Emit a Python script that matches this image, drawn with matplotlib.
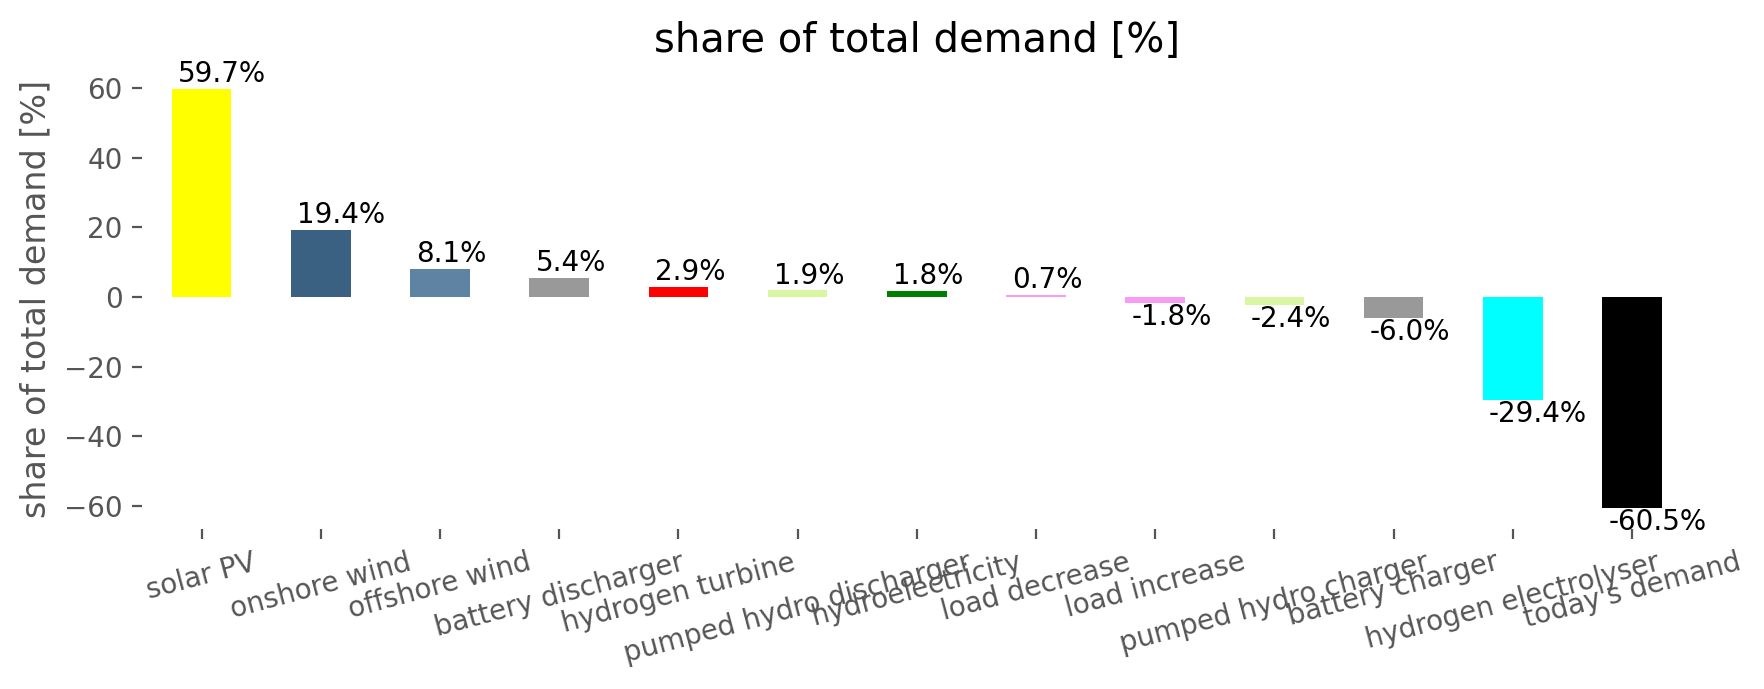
import matplotlib
matplotlib.use("Agg")
import pandas as pd
import matplotlib.pyplot as plt

plt.style.use("ggplot")

# technology shares of total demand
techs = ["solar PV", "onshore wind", "offshore wind", "battery discharger",
         "hydrogen turbine", "pumped hydro discharger", "hydroelectricity",
         "load decrease", "load increase", "pumped hydro charger",
         "battery charger", "hydrogen electrolyser", "today's demand"]
shares = [59.7, 19.4, 8.1, 5.4, 2.9, 1.9, 1.8, 0.7, -1.8, -2.4, -6.0, -29.4, -60.5]
colors = ["#ffff00", "#3b6182", "#5e83a3", "#999999", "#ff0000", "#d9f7a3",
          "#008000", "#f99bf3", "#f99bf3", "#d9f7a3", "#999999", "#00ffff",
          "#000000"]

s = pd.Series(shares, index=techs)

fig, ax = plt.subplots(figsize=(8.82, 3.445), dpi=200)
fig.patch.set_facecolor("white")
s.plot.bar(ax=ax, color=colors, rot=15)
ax.set_facecolor("white")
ax.grid(False)
for sp in ax.spines.values():
    sp.set_visible(False)

for p, v in zip(ax.patches, shares):
    if v > 0:
        ax.annotate(f"{v:.1f}%", (p.get_x() + 0.05, v + 2.0), va="baseline", color="black")
    else:
        ax.annotate(f"{v:.1f}%", (p.get_x() + 0.05, v), va="top", color="black")

ax.set_ylabel("share of total demand [%]")
ax.set_title("share of total demand [%]", color="black")
ax.set_ylim(-66.5, 65.7)

fig.subplots_adjust(left=0.0805, right=0.959, bottom=0.2325, top=0.901)
fig.savefig("out.png", dpi=200)
